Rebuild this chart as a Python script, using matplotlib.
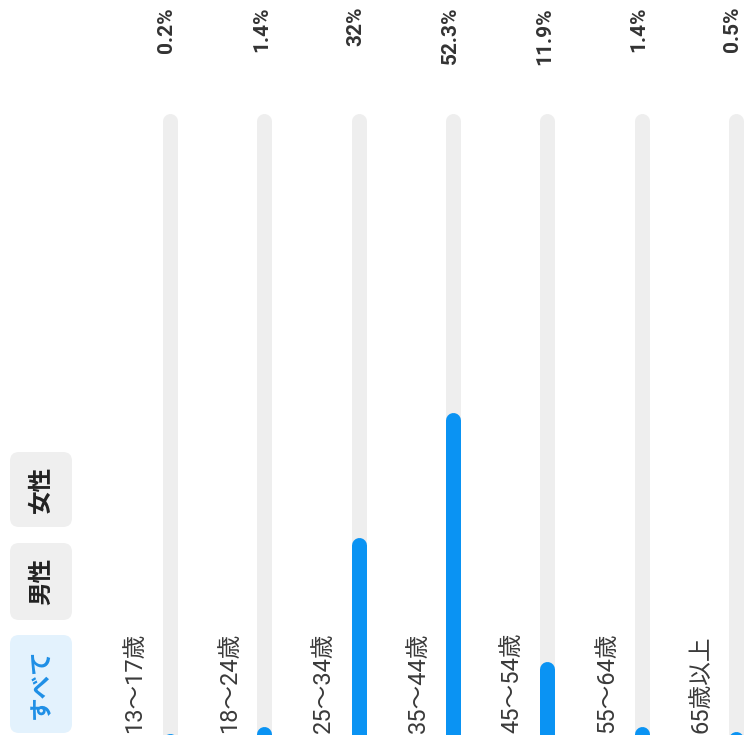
import matplotlib
matplotlib.use("Agg")
import matplotlib.pyplot as plt
from matplotlib.patches import FancyBboxPatch

# age distribution (share of audience, %)
age_groups = ["13〜17歳", "18〜24歳", "25〜34歳", "35〜44歳", "45〜54歳", "55〜64歳", "65歳以上"]
shares = [0.2, 1.4, 32.0, 52.3, 11.9, 1.4, 0.5]
pct_labels = ["0.2%", "1.4%", "32%", "52.3%", "11.9%", "1.4%", "0.5%"]

# filter tabs, bottom to top; first one is selected
tabs = ["すべて", "男性", "女性"]
tab_spans = [(635, 733), (543, 620), (452, 527)]
selected = 0

BLUE = "#0a93f3"
TRACK = "#eeeeee"
JP = ["Roboto", "Noto Sans CJK JP", "DejaVu Sans"]

W, H = 744, 748
PX_PER_UNIT = 6.17      # pixels per percent
X_STEP = 94.33          # pixels between bars
X0 = 170                # pixel of the first bar
BOTTOM = 735            # pixel of 0 %
TOP = 113               # pixel of track top
BAR_W = 15              # bar width in px

fig = plt.figure(figsize=(W / 100, H / 100), dpi=100)

# UI layer in pixel coordinates (tabs)
ui = fig.add_axes([0, 0, 1, 1])
ui.set_xlim(0, W); ui.set_ylim(H, 0); ui.axis("off")
for i, (lab, (y0, y1)) in enumerate(zip(tabs, tab_spans)):
    sel = i == selected
    ui.add_patch(FancyBboxPatch((10, y0), 62, y1 - y0,
                                boxstyle="round,pad=0,rounding_size=9",
                                fc="#e3f2fd" if sel else "#efefef", ec="none"))
    ui.text(41, (y0 + y1) / 2, lab, rotation=90, ha="center", va="center",
            fontsize=17, fontweight="bold", family=["Noto Sans CJK JP"],
            color="#1e8fe6" if sel else "#222222")

# bar layer
ax = fig.add_axes([0, (H - BOTTOM) / H, 1, (BOTTOM - TOP) / H])
ax.patch.set_alpha(0)
ymax = (BOTTOM - TOP) / PX_PER_UNIT
ax.set_ylim(0, ymax)
ax.set_xlim(-X0 / X_STEP, (W - X0) / X_STEP)
ax.axis("off")

lw = BAR_W * 72 / 100
r = BAR_W / 2 / PX_PER_UNIT
for i, (v, pl, ag) in enumerate(zip(shares, pct_labels, age_groups)):
    ax.plot([i, i], [-10, ymax - r], color=TRACK, lw=lw, solid_capstyle="round")
    ax.plot([i, i], [-10, v - r], color=BLUE, lw=lw, solid_capstyle="round")
    ax.text(i - 3 / X_STEP, (BOTTOM - 7) / PX_PER_UNIT, pl, rotation=90,
            ha="center", va="top", fontsize=15, fontweight="bold",
            family=["Roboto", "DejaVu Sans"], color="#333333", clip_on=False)
    ax.text(i - 35 / X_STEP, 2 / PX_PER_UNIT, ag, rotation=90,
            ha="center", va="bottom", fontsize=17, family=JP,
            color="#3a3a3a", clip_on=False)

fig.savefig("out.png", dpi=100)
